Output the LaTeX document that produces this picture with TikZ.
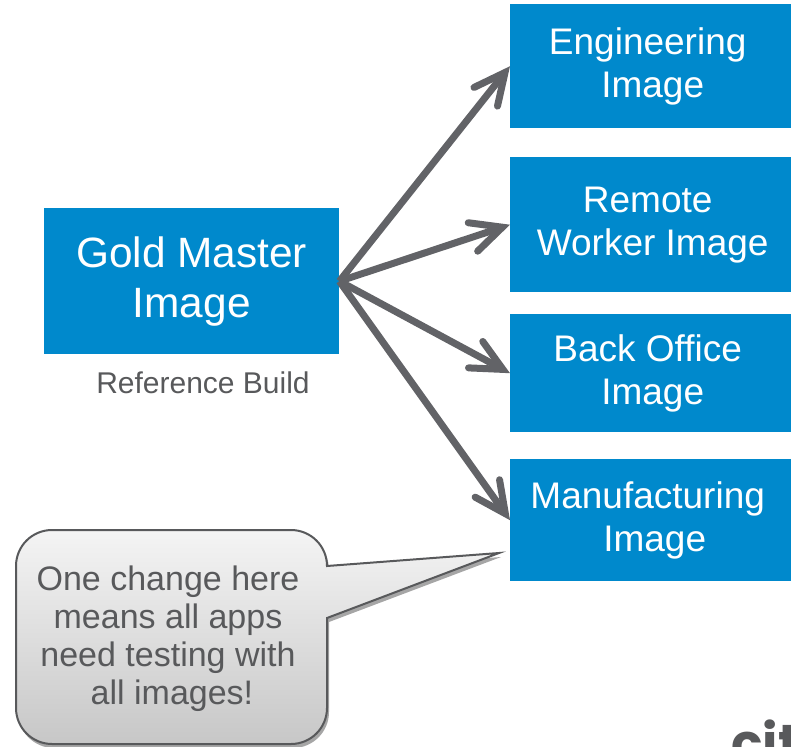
\documentclass[tikz,border=0pt]{standalone}
\usepackage{fontspec}
\setmainfont{Liberation Sans}
\newfontfamily\logofont{Poppins}
\usetikzlibrary{arrows.meta,shadows,calc}
\definecolor{boxblue}{HTML}{0089CC}
\definecolor{arrowgray}{HTML}{626367}
\definecolor{textgray}{HTML}{58595B}
\tikzset{
  x=1pt,y=-1pt,
  imgbox/.style={fill=boxblue,text=white,inner sep=0pt,anchor=north west,align=center},
  big/.style={font=\fontsize{42.4}{50}\selectfont},
  mid/.style={font=\fontsize{37}{43}\selectfont},
  link/.style={draw=arrowgray,line width=7pt,-{Straight Barb[length=31pt,width=30pt,line width=7pt,line cap=round,line join=miter]}},
  note/.style={text=textgray,inner sep=0pt,align=center},
}
\begin{document}
\begin{tikzpicture}
\useasboundingbox (0,0) rectangle (791,746);
\clip (0,0) rectangle (791,746);
\node[imgbox,big,minimum width=295pt,minimum height=146pt] (gold) at (44,208) {Gold Master\\Image};
\node[imgbox,mid,minimum width=281pt,minimum height=124pt] (eng) at (510,4) {Engineering\hspace*{6pt}\\\hspace*{4pt}Image};
\node[imgbox,mid,minimum width=281pt,minimum height=135pt] (rem) at (510,157) {Remote\hspace*{6pt}\\\hspace*{4pt}Worker Image};
\node[imgbox,mid,minimum width=281pt,minimum height=118pt] (back) at (510,314) {Back Office\hspace*{6pt}\\\hspace*{4pt}Image};
\node[imgbox,mid,minimum width=281pt,minimum height=122pt] (man) at (510,459) {Manufacturing\hspace*{6pt}\\\hspace*{8pt}Image};
\foreach \t in {eng,rem,back,man} \draw[link] (gold.east) -- (\t.west);
\node[note,font=\fontsize{30}{36}\selectfont] (ref) at (203,383) {Reference Build};
\coordinate (tip) at (499,553);
\path[draw=textgray,line width=2pt,line join=miter,top color=white!30!black!6,bottom color=black!22,
      drop shadow={shadow xshift=2pt,shadow yshift=-4pt,opacity=.35,fill=black}]
  (52,530) -- (291,530) arc[start angle=-90,end angle=0,radius=36,y=1pt] 
  -- (327,566) -- (tip) -- (327,618) -- (327,708)
  arc[start angle=0,end angle=90,radius=36] -- (52,744)
  arc[start angle=90,end angle=180,radius=36] -- (16,566)
  arc[start angle=180,end angle=270,radius=36] -- cycle;
\node[note,font=\fontsize{34}{38}\selectfont] (msg) at (168,638.5) {One change here\\means all apps\\need testing with\\\hspace*{8pt}all images!};
\node[anchor=base west,inner sep=0pt,text=textgray,font=\logofont\bfseries\fontsize{52}{52}\selectfont] (logo) at (731,761) {cit};
\end{tikzpicture}
\end{document}
